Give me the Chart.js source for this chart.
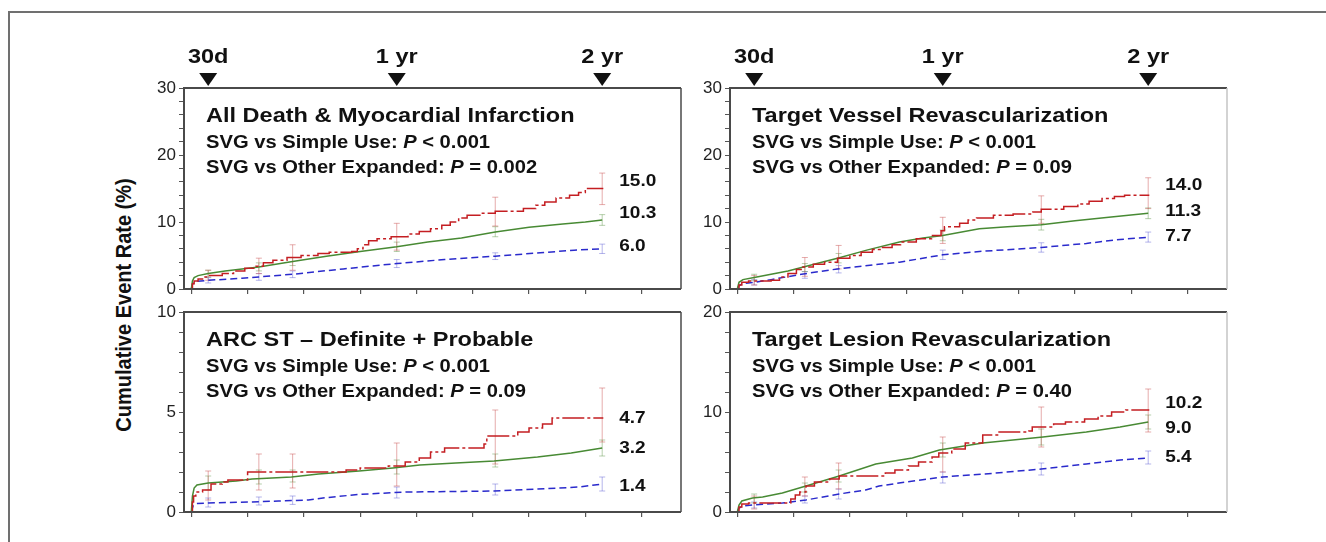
<!DOCTYPE html>
<html>
<head>
<meta charset="utf-8">
<script src="https://cdn.jsdelivr.net/npm/chart.js@4.4.1/dist/chart.umd.min.js"></script>
<style>
  html, body { margin: 0; padding: 0; background: #fff; width: 1326px; height: 542px; overflow: hidden; }
  body { position: relative; }
  .frame { position: absolute; left: 8px; top: 11px; width: 1400px; height: 600px; border: 2px solid #707070; }
  .ytitle { position: absolute; left: 124px; top: 305px; transform: translate(-50%, -50%) rotate(-90deg) scaleY(1.12);
            font: bold 20px "Liberation Sans", Arial, sans-serif; color: #111; white-space: nowrap; }
  .panel { position: absolute; }
</style>
</head>
<body>
<div class="frame"></div>
<div class="ytitle">Cumulative Event Rate (%)</div>
<div class="panel" id="w1"><canvas id="c1"></canvas></div>
<div class="panel" id="w2"><canvas id="c2"></canvas></div>
<div class="panel" id="w3"><canvas id="c3"></canvas></div>
<div class="panel" id="w4"><canvas id="c4"></canvas></div>
<script>
(function() {
    "use strict";

    // time axis (days)
    var xTicks = [0, 100, 200, 300, 400, 500, 600, 700, 800];
    var markerDays = [30, 365, 730];
    var markerLabels = ['30d', '1 yr', '2 yr'];
    var ciDays = [30, 120, 180, 365, 540, 730];

    // All Death & MI
    var p1Svg = [[0,0],[2,0.8],[5,1.2],[12,1.5],[20,1.8],[30,2.0],[55,2.3],[75,2.7],[95,3.1],[115,3.4],[128,3.9],[145,4.3],[170,4.7],[195,5.0],[225,5.3],[245,5.5],[285,5.6],[295,6.0],[305,6.6],[315,7.2],[330,7.5],[355,7.8],[385,8.2],[405,8.6],[425,9.0],[445,9.5],[460,10.0],[475,10.6],[490,11.0],[515,11.3],[540,11.6],[590,12.0],[612,12.5],[628,13.0],[648,13.6],[672,14.0],[688,14.4],[700,15.0],[732,15.0]];
    var p1Other = [[0,0],[2,1.2],[5,1.7],[12,2.0],[30,2.3],[60,2.7],[90,3.0],[120,3.3],[180,4.1],[240,4.9],[300,5.6],[365,6.3],[420,7.0],[480,7.6],[540,8.5],[600,9.2],[660,9.7],[700,10.0],[730,10.3]];
    var p1Simple = [[0,0],[2,0.7],[6,1.1],[30,1.3],[90,1.6],[120,1.8],[180,2.2],[270,3.0],[365,3.8],[450,4.4],[540,4.9],[620,5.4],[680,5.8],[730,6.0]];
    var p1SvgCI = [[1.3,2.8],[2.3,4.6],[2.8,6.6],[5.8,9.8],[9.4,13.7],[12.6,17.3]];
    var p1OtherCI = [[1.8,2.8],[2.7,3.9],[3.5,4.7],[5.6,7.0],[7.8,9.3],[9.5,11.1]];
    var p1SimpleCI = [[0.9,1.7],[1.3,2.3],[1.7,2.7],[3.2,4.4],[4.4,5.4],[5.3,6.7]];

    // Target Vessel Revascularization
    var p2Svg = [[0,0],[3,0.6],[8,1.0],[20,1.2],[60,1.3],[75,1.8],[90,2.3],[105,2.9],[115,3.3],[135,3.7],[155,4.0],[178,4.6],[200,5.0],[220,5.5],[240,5.9],[258,6.2],[275,6.6],[290,7.0],[318,7.5],[345,8.0],[362,8.7],[368,9.3],[395,9.8],[410,10.3],[425,10.6],[455,11.0],[490,11.2],[525,11.5],[540,11.9],[580,12.3],[605,12.7],[625,13.1],[648,13.5],[670,13.8],[688,14.0],[732,14.0]];
    var p2Other = [[0,0],[3,1.0],[10,1.4],[30,1.7],[60,2.2],[90,2.7],[114,3.2],[150,4.0],[178,4.6],[230,5.8],[288,7.0],[330,7.6],[365,8.0],[430,9.0],[480,9.3],[540,9.6],[600,10.2],[660,10.7],[730,11.3]];
    var p2Simple = [[0,0],[3,0.5],[10,0.8],[30,1.0],[60,1.4],[114,2.2],[178,3.0],[240,3.6],[288,4.0],[365,5.1],[430,5.6],[540,6.2],[620,6.8],[680,7.4],[730,7.7]];
    var p2SvgCI = [[0.6,2.0],[1.9,4.7],[3.0,6.5],[6.8,10.7],[9.8,13.9],[12.0,16.6]];
    var p2OtherCI = [[1.3,2.2],[2.6,3.8],[3.9,5.3],[7.2,8.8],[8.8,10.4],[10.5,12.1]];
    var p2SimpleCI = [[0.6,1.4],[1.6,2.6],[2.4,3.5],[4.4,5.8],[5.5,6.9],[7.0,8.5]];

    // ARC ST definite + probable
    var p3Svg = [[0,0],[2,0.5],[4,0.8],[8,1.0],[20,1.1],[35,1.4],[55,1.5],[65,1.6],[95,1.6],[100,2.0],[250,2.0],[275,2.1],[300,2.2],[350,2.3],[380,2.5],[405,2.7],[425,3.0],[450,3.2],[520,3.4],[525,3.8],[580,4.0],[600,4.2],[624,4.4],[641,4.7],[732,4.7]];
    var p3Other = [[0,0],[2,0.8],[5,1.2],[10,1.35],[30,1.45],[80,1.55],[108,1.65],[178,1.75],[226,1.9],[298,2.05],[358,2.2],[406,2.35],[470,2.45],[538,2.55],[615,2.75],[675,2.95],[730,3.2]];
    var p3Simple = [[0,0],[3,0.3],[8,0.42],[30,0.45],[108,0.5],[155,0.55],[208,0.6],[240,0.72],[298,0.88],[382,1.0],[538,1.05],[615,1.15],[690,1.25],[730,1.4]];
    var p3SvgCI = [[0.6,2.05],[1.1,2.9],[1.2,2.9],[1.3,3.45],[2.4,5.1],[3.5,6.2]];
    var p3OtherCI = [[1.1,1.8],[1.4,2.1],[1.5,2.1],[1.9,2.6],[2.25,2.9],[2.8,3.6]];
    var p3SimpleCI = [[0.25,0.7],[0.35,0.75],[0.38,0.8],[0.7,1.25],[0.85,1.4],[1.05,1.75]];

    // Target Lesion Revascularization
    var p4Svg = [[0,0],[3,0.5],[8,0.8],[20,0.9],[87,0.9],[95,1.3],[103,1.7],[111,2.0],[122,2.6],[137,3.0],[164,3.3],[181,3.6],[254,3.6],[263,3.9],[280,4.2],[304,4.6],[322,5.0],[346,5.5],[358,5.9],[381,6.3],[405,6.9],[436,7.7],[465,8.0],[518,8.1],[524,8.5],[562,8.8],[583,9.0],[617,9.3],[641,9.6],[665,10.0],[690,10.2],[732,10.2]];
    var p4Other = [[0,0],[3,0.7],[8,1.1],[27,1.4],[45,1.5],[80,1.9],[122,2.6],[181,3.6],[246,4.8],[311,5.4],[359,6.2],[436,6.9],[543,7.5],[620,8.0],[680,8.5],[730,9.0]];
    var p4Simple = [[0,0],[3,0.4],[10,0.6],[27,0.7],[80,0.9],[122,1.2],[181,1.8],[228,2.2],[252,2.6],[300,3.0],[365,3.5],[440,3.8],[540,4.3],[620,4.8],[680,5.2],[730,5.4]];
    var p4SvgCI = [[0.3,1.6],[1.6,3.5],[2.3,4.9],[4.0,7.5],[6.5,10.5],[8.0,12.3]];
    var p4OtherCI = [[0.9,1.8],[2.0,2.9],[3.0,4.2],[5.5,6.9],[6.7,8.3],[8.3,9.7]];
    var p4SimpleCI = [[0.4,1.0],[0.9,1.6],[1.3,2.3],[2.9,4.0],[3.7,4.9],[4.8,6.1]];

    var FONT = '"Liberation Sans", Arial, sans-serif';
    var SX = 1.12;   // the source figure is a bit wider than plain Arial
    var PAD_L = 60, PAD_T = 80, PAD_R = 90, PAD_B = 14;

    var RED = 'rgb(196,30,34)', GREEN = 'rgb(72,138,52)', BLUE = 'rgb(42,42,204)';
    var RED_CI = 'rgba(205,90,90,0.5)', GREEN_CI = 'rgba(110,160,90,0.5)', BLUE_CI = 'rgba(90,90,210,0.45)';

    function drawParts(ctx, parts, x, y, align) {
        var total = 0;
        parts.forEach(function(p) { ctx.font = p[1]; total += ctx.measureText(p[0]).width * SX; });
        var cx = align === 'center' ? x - total / 2 : x;
        parts.forEach(function(p) {
            ctx.font = p[1];
            var w = ctx.measureText(p[0]).width * SX;
            ctx.save();
            ctx.translate(cx, y);
            ctx.scale(SX, 1);
            ctx.textAlign = 'left';
            ctx.fillText(p[0], 0, 0);
            ctx.restore();
            cx += w;
        });
    }

    var panelText = {
        id: 'panelText',
        afterDraw: function(chart, args, opts) {
            var ctx = chart.ctx, a = chart.chartArea;
            var xs = chart.scales.x, ys = chart.scales.y;
            ctx.save();
            // box
            ctx.lineWidth = 2;
            ctx.strokeStyle = '#4a4a4a';
            ctx.beginPath();
            ctx.moveTo(a.right, a.top); ctx.lineTo(a.left, a.top); ctx.lineTo(a.left, a.bottom); ctx.lineTo(a.right, a.bottom);
            ctx.stroke();
            ctx.strokeStyle = opts.rightEdge;
            ctx.lineWidth = 1.5;
            ctx.beginPath(); ctx.moveTo(a.right, a.top); ctx.lineTo(a.right, a.bottom); ctx.stroke();

            ctx.fillStyle = '#111';
            ctx.textBaseline = 'alphabetic';
            var sub = 'bold 18px ' + FONT, subP = 'italic bold 18px ' + FONT;
            drawParts(ctx, [[opts.title, 'bold 21px ' + FONT]], a.left + 22, a.top + 34, 'left');
            drawParts(ctx, [['SVG vs Simple Use: ', sub], ['P', subP], [' ' + opts.pSimple, sub]], a.left + 22, a.top + 60, 'left');
            drawParts(ctx, [['SVG vs Other Expanded: ', sub], ['P', subP], [' ' + opts.pOther, sub]], a.left + 22, a.top + 85, 'left');

            // end-of-follow-up values
            ctx.textBaseline = 'middle';
            opts.ends.forEach(function(s, i) {
                var last = s[s.length - 1][1];
                var py = ys.getPixelForValue(last) + opts.endShift[i];
                drawParts(ctx, [[last.toFixed(1), 'bold 17px ' + FONT]], xs.getPixelForValue(730) + 17, py, 'left');
            });

            // time markers above the top panels
            if (opts.markers) {
                ctx.textBaseline = 'alphabetic';
                markerDays.forEach(function(d, i) {
                    var px = xs.getPixelForValue(d);
                    ctx.beginPath();
                    ctx.moveTo(px - 9, a.top - 15);
                    ctx.lineTo(px + 9, a.top - 15);
                    ctx.lineTo(px, a.top - 2);
                    ctx.closePath();
                    ctx.fill();
                    drawParts(ctx, [[markerLabels[i], 'bold 21px ' + FONT]], px, a.top - 25, 'center');
                });
            }
            ctx.restore();
        }
    };

    function curve(pairs, color, dash, stepped) {
        return {
            data: pairs.map(function(p) { return { x: p[0], y: p[1] }; }),
            borderColor: color,
            borderWidth: 1.5,
            borderDash: dash,
            stepped: stepped,
            pointRadius: 0,
            fill: false
        };
    }

    function ciBars(ci, color) {
        var pts = [];
        ciDays.forEach(function(d, i) {
            pts.push({ x: d, y: ci[i][0] }, { x: d, y: ci[i][1] }, { x: d, y: null });
        });
        return {
            data: pts,
            borderColor: color,
            borderWidth: 1,
            pointStyle: 'line',
            pointRadius: 3,
            pointBorderColor: color,
            pointBorderWidth: 1,
            spanGaps: false,
            fill: false
        };
    }

    function makePanel(n, box, cfg) {
        var wrap = document.getElementById('w' + n);
        wrap.style.left = (box[0] - PAD_L) + 'px';
        wrap.style.top = (box[1] - PAD_T) + 'px';
        wrap.style.width = (box[2] - box[0] + PAD_L + PAD_R) + 'px';
        wrap.style.height = (box[3] - box[1] + PAD_T + PAD_B) + 'px';

        var yAll = [];
        for (var v = 0; v <= cfg.yMax + 1e-9; v += cfg.yMinor) yAll.push(Math.round(v * 100) / 100);

        return new Chart(document.getElementById('c' + n), {
            type: 'line',
            data: {
                datasets: [
                    curve(cfg.svg, RED, [22, 3, 3, 3], true),
                    curve(cfg.other, GREEN, [], false),
                    curve(cfg.simple, BLUE, [7, 4], false),
                    ciBars(cfg.svgCI, RED_CI),
                    ciBars(cfg.otherCI, GREEN_CI),
                    ciBars(cfg.simpleCI, BLUE_CI)
                ]
            },
            options: {
                responsive: true,
                maintainAspectRatio: false,
                animation: false,
                events: [],
                layout: { padding: { left: 0, top: PAD_T, right: PAD_R, bottom: 0 } },
                plugins: {
                    legend: { display: false },
                    tooltip: { enabled: false },
                    panelText: {
                        title: cfg.title,
                        pSimple: cfg.pSimple,
                        pOther: cfg.pOther,
                        ends: [cfg.svg, cfg.other, cfg.simple],
                        endShift: cfg.endShift,
                        markers: cfg.markers,
                        rightEdge: cfg.rightEdge
                    }
                },
                scales: {
                    x: {
                        type: 'linear',
                        min: -13,
                        max: 870,
                        afterBuildTicks: function(s) { s.ticks = xTicks.map(function(t) { return { value: t }; }); },
                        afterFit: function(s) { s.height = PAD_B; },
                        ticks: { display: false },
                        grid: { drawOnChartArea: false, tickLength: 5, color: '#555', lineWidth: 1.2 },
                        border: { display: false }
                    },
                    y: {
                        min: 0,
                        max: cfg.yMax,
                        afterBuildTicks: function(s) { s.ticks = yAll.map(function(t) { return { value: t }; }); },
                        afterFit: function(s) { s.width = PAD_L; },
                        ticks: {
                            autoSkip: false,
                            padding: 3,
                            color: '#222',
                            font: { family: FONT, size: 17 },
                            callback: function(val) { return cfg.yMajor.indexOf(val) >= 0 ? String(val) : ''; }
                        },
                        grid: { drawOnChartArea: false, tickLength: 5, color: '#555', lineWidth: 1 },
                        border: { display: false }
                    }
                }
            },
            plugins: [panelText]
        });
    }

    makePanel(1, [184, 88, 681, 289], {
        title: 'All Death & Myocardial Infarction', pSimple: '< 0.001', pOther: '= 0.002',
        svg: p1Svg, other: p1Other, simple: p1Simple, svgCI: p1SvgCI, otherCI: p1OtherCI, simpleCI: p1SimpleCI,
        yMax: 30, yMinor: 2, yMajor: [0, 10, 20, 30], endShift: [-7, -7, -2], markers: true, rightEdge: '#4a4a4a'
    });
    makePanel(2, [730, 88, 1227, 289], {
        title: 'Target Vessel Revascularization', pSimple: '< 0.001', pOther: '= 0.09',
        svg: p2Svg, other: p2Other, simple: p2Simple, svgCI: p2SvgCI, otherCI: p2OtherCI, simpleCI: p2SimpleCI,
        yMax: 30, yMinor: 2, yMajor: [0, 10, 20, 30], endShift: [-10, -2, -1], markers: true, rightEdge: '#c4c4c4'
    });
    makePanel(3, [184, 312, 681, 512], {
        title: 'ARC ST \u2013 Definite + Probable', pSimple: '< 0.001', pOther: '= 0.09',
        svg: p3Svg, other: p3Other, simple: p3Simple, svgCI: p3SvgCI, otherCI: p3OtherCI, simpleCI: p3SimpleCI,
        yMax: 10, yMinor: 1, yMajor: [0, 5, 10], endShift: [0, 0, 2], markers: false, rightEdge: '#4a4a4a'
    });
    makePanel(4, [730, 312, 1227, 512], {
        title: 'Target Lesion Revascularization', pSimple: '< 0.001', pOther: '= 0.40',
        svg: p4Svg, other: p4Other, simple: p4Simple, svgCI: p4SvgCI, otherCI: p4OtherCI, simpleCI: p4SimpleCI,
        yMax: 20, yMinor: 2, yMajor: [0, 10, 20], endShift: [-7, 6, -1], markers: false, rightEdge: '#c4c4c4'
    });
})();
</script>
</body>
</html>
